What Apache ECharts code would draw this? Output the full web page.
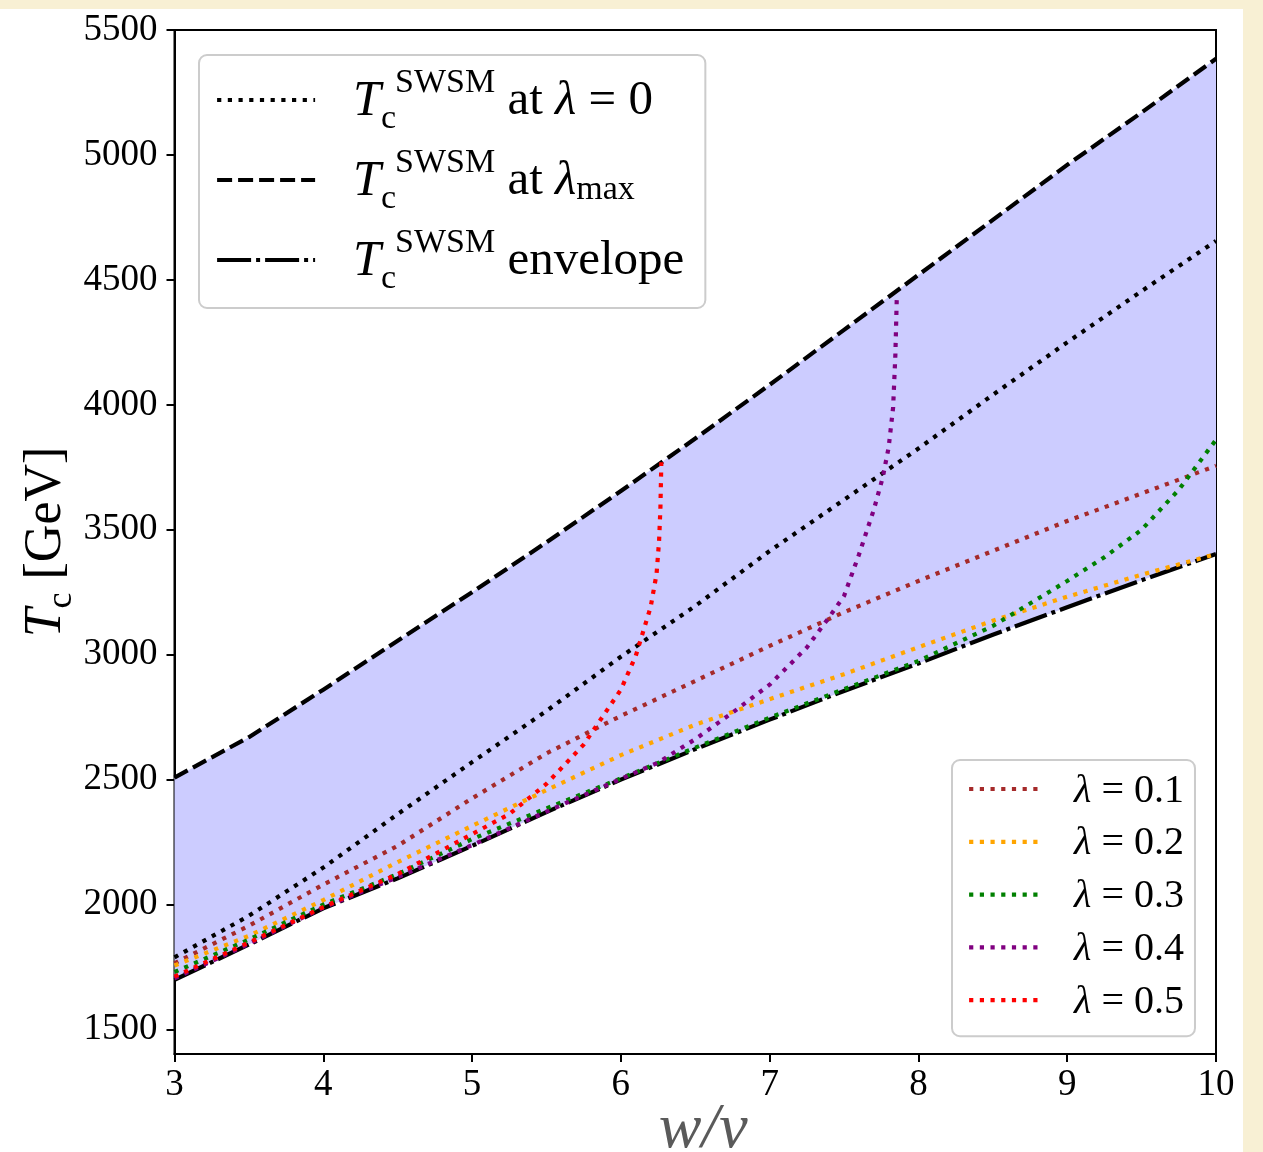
<!DOCTYPE html>
<html>
<head>
<meta charset="utf-8">
<title>Tc SWSM</title>
<script src="https://cdn.jsdelivr.net/npm/echarts@6/dist/echarts.min.js"></script>
<style>
  html, body { margin: 0; padding: 0; width: 1263px; height: 1152px; overflow: hidden; background: #f8f0d4; }
  #chart { position: absolute; left: 0; top: 9px; width: 1243px; height: 1143px; background: #ffffff; }
</style>
</head>
<body>
<div id="chart"></div>
<script>
// ---- data: critical temperature T_c [GeV] versus w/v ----
const xGrid = [3, 3.5, 4, 4.5, 5, 5.5, 6, 6.5, 7, 7.5, 8, 8.5, 9, 9.5, 10];
const tcLambdaZero = [1789, 1955, 2148, 2362, 2570, 2775, 2992, 3195, 3415, 3620, 3825, 4040, 4250, 4455, 4656];
const tcLambdaMax  = [2508, 2670, 2860, 3056, 3250, 3450, 3655, 3865, 4080, 4300, 4520, 4740, 4960, 5170, 5385];
const tcEnvelope   = [1699, 1840, 1985, 2105, 2235, 2370, 2500, 2622, 2740, 2855, 2965, 3080, 3190, 3298, 3403];
const tcLambda01   = [1765, 1915, 2080, 2235, 2425, 2605, 2755, 2895, 3035, 3170, 3295, 3415, 3535, 3645, 3756];
const tcLambda02   = [1756, 1875, 2018, 2170, 2315, 2458, 2598, 2720, 2822, 2922, 3030, 3136, 3232, 3320, 3403];
const xLambda03  = [3, 3.5, 4, 4.5, 5, 5.5, 6, 6.5, 7, 7.5, 8, 8.5, 9, 9.25, 9.5, 9.75, 10];
const tcLambda03 = [1730, 1860, 2000, 2122, 2262, 2385, 2505, 2628, 2748, 2862, 2975, 3115, 3295, 3390, 3500, 3660, 3860];
const xLambda04  = [3, 3.5, 4, 4.5, 5, 5.5, 6, 6.25, 6.5, 6.75, 7, 7.25, 7.4, 7.5, 7.6, 7.7, 7.76, 7.8, 7.83, 7.845, 7.855];
const tcLambda04 = [1705, 1843, 1988, 2110, 2238, 2372, 2503, 2568, 2662, 2768, 2880, 3029, 3150, 3235, 3400, 3580, 3709, 3830, 3990, 4200, 4440];
const xLambda05  = [3, 3.5, 4, 4.5, 5, 5.25, 5.5, 5.75, 6, 6.1, 6.2, 6.24, 6.257, 6.266, 6.272];
const tcLambda05 = [1712, 1848, 1990, 2122, 2282, 2362, 2483, 2640, 2860, 2995, 3190, 3323, 3456, 3590, 3770];
const yTicks = [1500, 2000, 2500, 3000, 3500, 4000, 4500, 5000, 5500];
const lambdaLabels = ['0.1', '0.2', '0.3', '0.4', '0.5'];
const lambdaColors = ['#a52a2a', '#ffa500', '#008000', '#800080', '#ff0000'];

const SERIF = "'Liberation Serif', 'DejaVu Serif', serif";
const pairs = (xs, ys) => xs.map((x, i) => [x, ys[i]]);

const LW = 4.2;
const DOTTED = [4.2, 6.5];
const DASHED = [15, 6];
const DASHDOT = [34, 5, 4, 5];

const NAME_L0 = 'swsm0', NAME_LMAX = 'swsmMax', NAME_ENV = 'swsmEnv';

function lineSeries(name, data, color, dash, z) {
  return {
    name: name, type: 'line', data: data, symbol: 'none', smooth: false, z: z,
    lineStyle: { color: color, width: LW, type: dash, cap: 'butt', join: 'round' },
    emphasis: { disabled: true }, animation: false
  };
}

const chart = echarts.init(document.getElementById('chart'), null, { renderer: 'canvas' });

const series = [
  {
    // shaded band between the envelope and the lambda_max curve
    type: 'custom', name: 'band', silent: true, z: 1, animation: false,
    data: xGrid.map((x, i) => [x, tcEnvelope[i], tcLambdaMax[i]]),
    encode: { x: 0, y: [1, 2] },
    renderItem: function (params, api) {
      if (params.dataIndex !== 0) return null;
      const pts = [];
      for (let i = 0; i < xGrid.length; i++) pts.push(api.coord([xGrid[i], tcLambdaMax[i]]));
      for (let i = xGrid.length - 1; i >= 0; i--) pts.push(api.coord([xGrid[i], tcEnvelope[i]]));
      return { type: 'polygon', shape: { points: pts }, style: { fill: '#ccccff', stroke: null } };
    }
  },
  lineSeries(NAME_L0, pairs(xGrid, tcLambdaZero), '#000000', DOTTED, 3),
  lineSeries(NAME_LMAX, pairs(xGrid, tcLambdaMax), '#000000', DASHED, 3),
  lineSeries(NAME_ENV, pairs(xGrid, tcEnvelope), '#000000', DASHDOT, 3),
  lineSeries('λ = ' + lambdaLabels[0], pairs(xGrid, tcLambda01), lambdaColors[0], DOTTED, 4),
  lineSeries('λ = ' + lambdaLabels[1], pairs(xGrid, tcLambda02), lambdaColors[1], DOTTED, 4),
  lineSeries('λ = ' + lambdaLabels[2], pairs(xLambda03, tcLambda03), lambdaColors[2], DOTTED, 4),
  lineSeries('λ = ' + lambdaLabels[3], pairs(xLambda04, tcLambda04), lambdaColors[3], DOTTED, 4),
  lineSeries('λ = ' + lambdaLabels[4], pairs(xLambda05, tcLambda05), lambdaColors[4], DOTTED, 4)
];

const swsmRich = {
  T:   { fontFamily: SERIF, fontStyle: 'italic', fontSize: 50, color: '#000', width: 28, lineHeight: 50, padding: [3, 0, 0, 33] },
  c:   { fontFamily: SERIF, fontSize: 34, color: '#000', width: 14, lineHeight: 20, padding: [38, 0, 0, 0] },
  sup: { fontFamily: SERIF, fontSize: 34, color: '#000', lineHeight: 20, padding: [0, 0, 34, 0] },
  t:   { fontFamily: SERIF, fontSize: 49, color: '#000', lineHeight: 50, padding: [3, 0, 0, 0] },
  lam: { fontFamily: SERIF, fontStyle: 'italic', fontSize: 49, color: '#000', lineHeight: 50, padding: [3, 0, 0, 0] },
  sub: { fontFamily: SERIF, fontSize: 34, color: '#000', lineHeight: 20, padding: [20, 0, 0, 0] }
};
const swsmHead = '{T|T}{c|c}{sup|SWSM}';
const swsmText = {};
swsmText[NAME_L0] = swsmHead + '{t| at }{lam|λ}{t| = 0}';
swsmText[NAME_LMAX] = swsmHead + '{t| at }{lam|λ}{sub|max}';
swsmText[NAME_ENV] = swsmHead + '{t| envelope}';

const legendLine = (dash, color) => ({ color: color, width: LW, type: dash, cap: 'butt', opacity: 1 });
const hiddenSymbol = { color: 'rgba(0,0,0,0)', borderColor: 'rgba(0,0,0,0)', borderWidth: 0, opacity: 0 };

const option = {
  backgroundColor: 'transparent',
  animation: false,
  grid: {
    left: 174.5, right: 27, top: 21, bottom: 98, show: true,
    borderColor: '#000', borderWidth: 2, backgroundColor: 'transparent',
    containLabel: false, outerBoundsMode: 'none'
  },
  xAxis: {
    type: 'value', min: 3, max: 10, interval: 1,
    name: 'w/v', nameLocation: 'middle', nameGap: 44, nameMoveOverlap: false,
    nameTextStyle: { fontFamily: SERIF, fontStyle: 'italic', fontSize: 64, color: '#5a5a5a', padding: [0, 0, 0, 16] },
    axisLine: { show: true, onZero: false, lineStyle: { color: '#000', width: 2 } },
    axisTick: { show: true, inside: false, length: 8, lineStyle: { color: '#000', width: 2 } },
    axisLabel: { fontFamily: SERIF, fontSize: 37, color: '#000', margin: 13 },
    splitLine: { show: false }
  },
  yAxis: {
    type: 'value', min: 1402, max: 5500,
    name: '{T|T}{c|c}{g| [GeV]}', nameLocation: 'middle', nameGap: 100, nameRotate: 90, nameMoveOverlap: false,
    nameTextStyle: {
      rich: {
        T: { fontFamily: SERIF, fontStyle: 'italic', fontSize: 52, color: '#000', lineHeight: 56 },
        c: { fontFamily: SERIF, fontSize: 36, color: '#000', lineHeight: 20, padding: [30, 0, 0, 0] },
        g: { fontFamily: SERIF, fontSize: 52, color: '#000', lineHeight: 56 }
      }
    },
    axisLine: { show: true, onZero: false, lineStyle: { color: '#000', width: 2 } },
    axisTick: { show: true, inside: false, length: 8, customValues: yTicks, lineStyle: { color: '#000', width: 2 } },
    axisLabel: {
      fontFamily: SERIF, fontSize: 37, color: '#000', margin: 17, customValues: yTicks,
      formatter: (v) => String(v)
    },
    splitLine: { show: false }
  },
  legend: [
    {
      left: 199, top: 46, orient: 'vertical', itemWidth: 98, itemHeight: 14, itemGap: 8,
      padding: [9, 21, 12, 16],
      backgroundColor: 'rgba(255,255,255,0.8)', borderColor: '#cccccc', borderWidth: 2, borderRadius: 8,
      selectedMode: false,
      itemStyle: hiddenSymbol,
      data: [
        { name: NAME_L0, lineStyle: legendLine(DOTTED, '#000'), itemStyle: hiddenSymbol },
        { name: NAME_LMAX, lineStyle: legendLine(DASHED, '#000'), itemStyle: hiddenSymbol },
        { name: NAME_ENV, lineStyle: legendLine(DASHDOT, '#000'), itemStyle: hiddenSymbol }
      ],
      formatter: (name) => swsmText[name],
      textStyle: { rich: swsmRich }
    },
    {
      left: 952, top: 751, orient: 'vertical', itemWidth: 74, itemHeight: 14, itemGap: 8.8,
      padding: [7, 11, 14, 15],
      backgroundColor: 'rgba(255,255,255,0.8)', borderColor: '#cccccc', borderWidth: 2, borderRadius: 8,
      selectedMode: false,
      itemStyle: hiddenSymbol,
      data: lambdaLabels.map((v, i) => ({ name: 'λ = ' + v, lineStyle: legendLine(DOTTED, lambdaColors[i]), itemStyle: hiddenSymbol })),
      formatter: (name) => '{l|λ}{t|' + name.slice(1) + '}',
      textStyle: {
        rich: {
          l: { fontFamily: SERIF, fontStyle: 'italic', fontSize: 40, color: '#000', lineHeight: 36, padding: [4, 0, 0, 26] },
          t: { fontFamily: SERIF, fontSize: 40, color: '#000', lineHeight: 36, padding: [4, 0, 0, 0] }
        }
      }
    }
  ],
  series: series
};

chart.setOption(option);
</script>
</body>
</html>
